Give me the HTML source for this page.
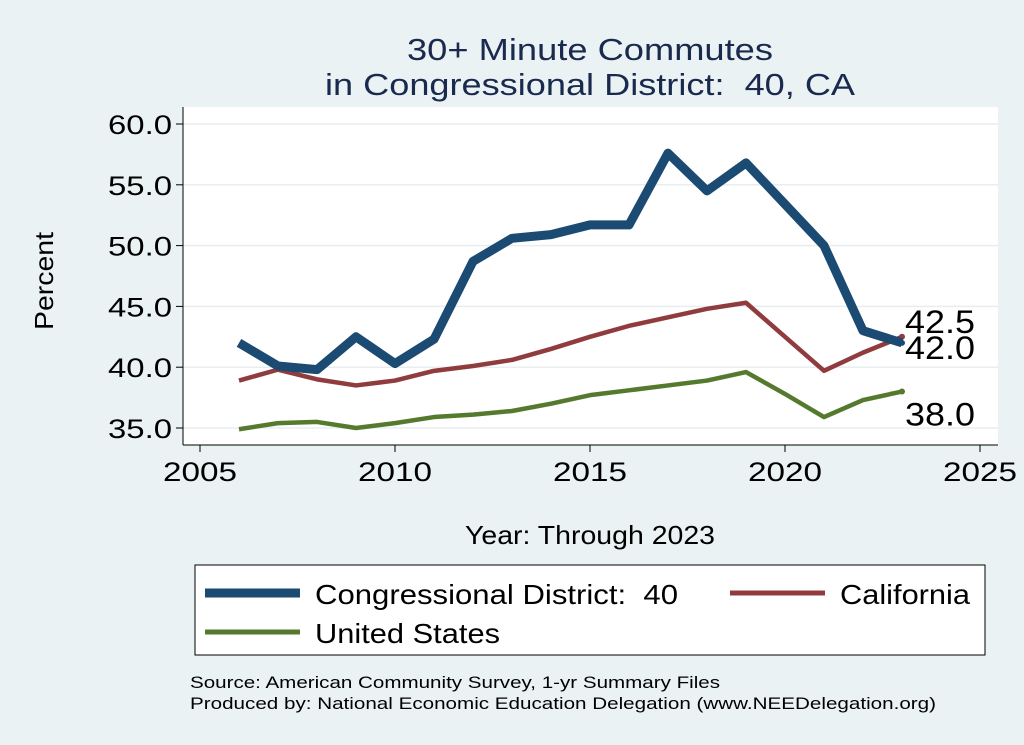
<!DOCTYPE html>
<html><head><meta charset="utf-8"><style>
body{margin:0;background:#eaf2f3;font-family:"Liberation Sans",sans-serif;}
svg{display:block}
text{white-space:pre}
</style></head><body>
<svg width="1024" height="745" viewBox="0 0 1024 745" xml:space="preserve">
<rect x="0" y="0" width="1024" height="745" fill="#eaf2f3"/>
<text x="590" y="60" font-size="31" fill="#1a2a4f" text-anchor="middle" textLength="366" lengthAdjust="spacingAndGlyphs">30+ Minute Commutes</text>
<text x="590" y="95" font-size="31" fill="#1a2a4f" text-anchor="middle" textLength="530" lengthAdjust="spacingAndGlyphs">in Congressional District:  40, CA</text>
<rect x="183" y="107" width="815" height="338" fill="#fff"/>
<g id="grid"></g><g id="axes"></g><g id="series"></g>
<text transform="translate(53,281) rotate(-90)" font-size="26" text-anchor="middle" textLength="98" lengthAdjust="spacingAndGlyphs">Percent</text>
<text x="590" y="544" font-size="26" text-anchor="middle" textLength="250" lengthAdjust="spacingAndGlyphs">Year: Through 2023</text>
<g>
<rect x="195" y="565" width="790" height="90" fill="#fff" stroke="#000" stroke-width="1"/>
<line x1="205" y1="593" x2="300" y2="593" stroke="#1b4a72" stroke-width="9"/>
<text x="315" y="604" font-size="28" textLength="363" lengthAdjust="spacingAndGlyphs">Congressional District:  40</text>
<line x1="730" y1="593" x2="825" y2="593" stroke="#903c3e" stroke-width="5"/>
<text x="840" y="604" font-size="28" textLength="130" lengthAdjust="spacingAndGlyphs">California</text>
<line x1="205" y1="632" x2="300" y2="632" stroke="#557a2e" stroke-width="5"/>
<text x="315" y="643" font-size="28" textLength="185" lengthAdjust="spacingAndGlyphs">United States</text>
</g>
<text x="190" y="688" font-size="17" textLength="530" lengthAdjust="spacingAndGlyphs">Source: American Community Survey, 1-yr Summary Files</text>
<text x="190" y="709" font-size="17" textLength="746" lengthAdjust="spacingAndGlyphs">Produced by: National Economic Education Delegation (www.NEEDelegation.org)</text>
</svg>
<script>
const years=[2006,2007,2008,2009,2010,2011,2012,2013,2014,2015,2016,2017,2018,2019,2020,2021,2022,2023];
const district=[42.0,40.1,39.8,42.5,40.3,42.3,48.7,50.6,50.9,51.7,51.7,57.6,54.5,56.8,53.4,50.0,43.0,42.0];
const california=[38.9,39.8,39.0,38.5,38.9,39.7,40.1,40.6,41.5,42.5,43.4,44.1,44.8,45.3,42.5,39.7,41.2,42.5];
const unitedStates=[34.9,35.4,35.5,35.0,35.4,35.9,36.1,36.4,37.0,37.7,38.1,38.5,38.9,39.6,37.8,35.9,37.3,38.0];
const yTicks=[35,40,45,50,55,60];
const xTicks=[2005,2010,2015,2020,2025];
const NS="http://www.w3.org/2000/svg";
const X=v=>200+(v-2005)*39;
const Y=v=>428-(v-35)*(304/25);
function mk(t,a,p){const e=document.createElementNS(NS,t);for(const k in a)e.setAttribute(k,a[k]);p.appendChild(e);return e;}
const grid=document.getElementById('grid'),axes=document.getElementById('axes'),ser=document.getElementById('series');
mk('line',{x1:183,y1:107,x2:183,y2:445,stroke:'#000'},axes);
mk('line',{x1:183,y1:445,x2:998,y2:445,stroke:'#000'},axes);
yTicks.forEach(t=>{
 const g=mk('line',{x1:183,y1:Y(t),x2:998,y2:Y(t),stroke:'#e8eef0','stroke-width':1.5},grid);
 
 
 mk('line',{x1:176,y1:Y(t),x2:183,y2:Y(t),stroke:'#000'},axes);
 const tx=mk('text',{x:172,y:Y(t)+10,'font-size':27,'text-anchor':'end',textLength:64,lengthAdjust:'spacingAndGlyphs'},axes);tx.textContent=t.toFixed(1);
 
 
});
xTicks.forEach(t=>{
 mk('line',{x1:X(t),y1:445,x2:X(t),y2:452,stroke:'#000'},axes);
 const tx=mk('text',{x:X(t),y:481,'font-size':27,'text-anchor':'middle',textLength:74,lengthAdjust:'spacingAndGlyphs'},axes);tx.textContent=t;
 
 
});
function line(vals,col,w,name){
 const p=mk('polyline',{points:vals.map((v,i)=>X(years[i])+','+Y(v)).join(' '),fill:'none',stroke:col,'stroke-width':w,'stroke-linejoin':'round'},ser);
 
 
 const n=vals.length-1;
 const c=mk('circle',{cx:X(years[n]),cy:Y(vals[n]),r:3,fill:col},ser);
 
 
}
line(unitedStates,'#557a2e',4.5,'line-us');
line(california,'#903c3e',4.5,'line-california');
line(district,'#1b4a72',9,'line-district');
function lab(v,dy,name){
 const t=mk('text',{x:X(2023)+3,y:Y(v)+dy,'font-size':32,textLength:70,lengthAdjust:'spacingAndGlyphs'},ser);t.textContent=v.toFixed(1);
 
 
}
lab(california[17],-4,'label-california-last');
lab(district[17],16,'label-district-last');
lab(unitedStates[17],34,'label-us-last');
</script>
</body></html>
